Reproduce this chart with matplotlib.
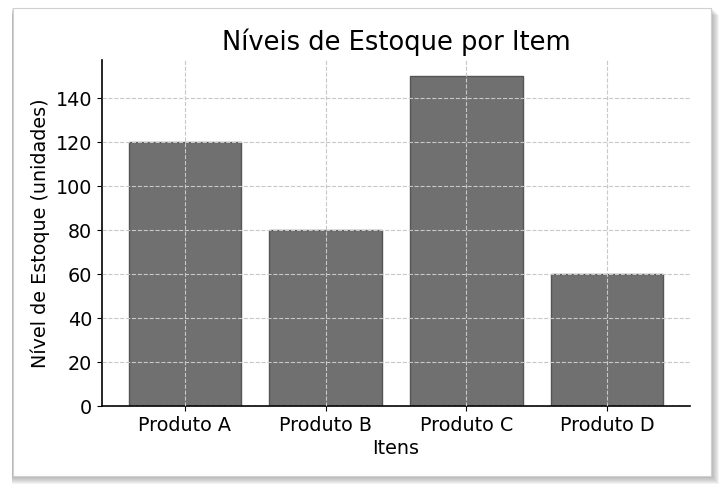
import matplotlib.pyplot as plt
from matplotlib.patches import Rectangle

plt.rcParams["font.family"] = ["DejaVu Sans"]

itens = ["Produto A", "Produto B", "Produto C", "Produto D"]
estoque = [120, 80, 150, 60]

W, H = 724, 494
fig = plt.figure(figsize=(W / 100, H / 100), dpi=100)
fig.patch.set_facecolor("white")

# cartão com sombra
x0, y0, x1, y1 = 13, 8, 711, 476
for i in range(8, 0, -1):
    fig.patches.append(Rectangle(((x0 - 1) / W, 1 - (y1 + i) / H), (x1 - x0 + i + 1) / W, (y1 - y0 + 1) / H,
                                 transform=fig.transFigure, facecolor="#707070", alpha=0.08,
                                 edgecolor="none", zorder=-3))
fig.patches.append(Rectangle((x0 / W, 1 - y1 / H), (x1 - x0) / W, (y1 - y0) / H,
                             transform=fig.transFigure, facecolor="white",
                             edgecolor="#d0d0d0", linewidth=0.8, zorder=-2))

ax = fig.add_axes([102 / W, 1 - 406 / H, 588 / W, 346 / H])
ax.set_facecolor("none")
ax.bar(itens, estoque, width=0.8, color="#707070", edgecolor="#555555", linewidth=1)
ax.set_axisbelow(False)
ax.grid(True, linestyle="--", color="#c8c8c8", linewidth=0.8)
ax.spines["top"].set_visible(False)
ax.spines["right"].set_visible(False)
ax.spines["left"].set_linewidth(1.2)
ax.spines["bottom"].set_linewidth(1.2)
ax.set_title("Níveis de Estoque por Item", fontsize=18.5, pad=7)
ax.set_xlabel("Itens", fontsize=13.8, labelpad=3)
ax.set_ylabel("Nível de Estoque (unidades)", fontsize=13.8)
ax.tick_params(labelsize=13.8)

fig.savefig("out.png", dpi=100)
